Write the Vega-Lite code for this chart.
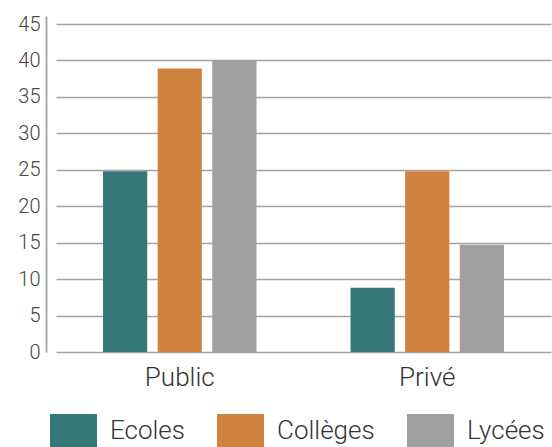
{
  "$schema": "https://vega.github.io/schema/vega-lite/v6.json",
  "width": 495,
  "height": 336,
  "autosize": "none",
  "padding": {"left": 46, "top": 16, "right": 11, "bottom": 95},
  "config": {
    "view": {"stroke": null},
    "font": "Roboto"
  },
  "data": {
    "values": [
      {"secteur": "Public", "type": "Ecoles", "valeur": 24.8},
      {"secteur": "Public", "type": "Collèges", "valeur": 38.9},
      {"secteur": "Public", "type": "Lycées", "valeur": 40},
      {"secteur": "Privé", "type": "Ecoles", "valeur": 8.8},
      {"secteur": "Privé", "type": "Collèges", "valeur": 24.8},
      {"secteur": "Privé", "type": "Lycées", "valeur": 14.7}
    ]
  },
  "mark": {"type": "bar"},
  "encoding": {
    "x": {
      "field": "secteur",
      "type": "nominal",
      "sort": ["Public", "Privé"],
      "scale": {"range": [10, 505], "paddingInner": 0.38, "paddingOuter": 0.19},
      "axis": {
        "title": null,
        "domain": false,
        "ticks": false,
        "labelAngle": 0,
        "labelFontSize": 26,
        "labelFontWeight": 300,
        "labelColor": "#333333",
        "labelPadding": 12
      }
    },
    "xOffset": {
      "field": "type",
      "type": "nominal",
      "sort": ["Ecoles", "Collèges", "Lycées"],
      "scale": {"paddingInner": 0.19, "paddingOuter": 0}
    },
    "y": {
      "field": "valeur",
      "type": "quantitative",
      "scale": {"domain": [0, 46.1], "nice": false},
      "axis": {
        "title": null,
        "values": [0, 5, 10, 15, 20, 25, 30, 35, 40, 45],
        "domain": true,
        "domainColor": "#aaaaaa",
        "domainWidth": 2,
        "ticks": false,
        "grid": true,
        "gridColor": "#a3a3a3",
        "gridWidth": 1.5,
        "labelFontSize": 20,
        "labelFontWeight": 300,
        "labelColor": "#444444",
        "labelPadding": 6
      }
    },
    "color": {
      "field": "type",
      "type": "nominal",
      "sort": ["Ecoles", "Collèges", "Lycées"],
      "scale": {
        "domain": ["Ecoles", "Collèges", "Lycées"],
        "range": ["#367877", "#CF833E", "#A09F9D"]
      },
      "legend": {
        "title": null,
        "orient": "none",
        "direction": "horizontal",
        "legendX": 4,
        "legendY": 391,
        "symbolType": "M-1,-0.7H1V0.7H-1Z",
        "symbolSize": 2209,
        "symbolStrokeWidth": 0,
        "symbolOpacity": 1,
        "labelFontSize": 26,
        "labelFontWeight": 300,
        "labelColor": "#333333",
        "labelOffset": 13,
        "labelLimit": 0,
        "columnPadding": 32
      }
    }
  }
}
